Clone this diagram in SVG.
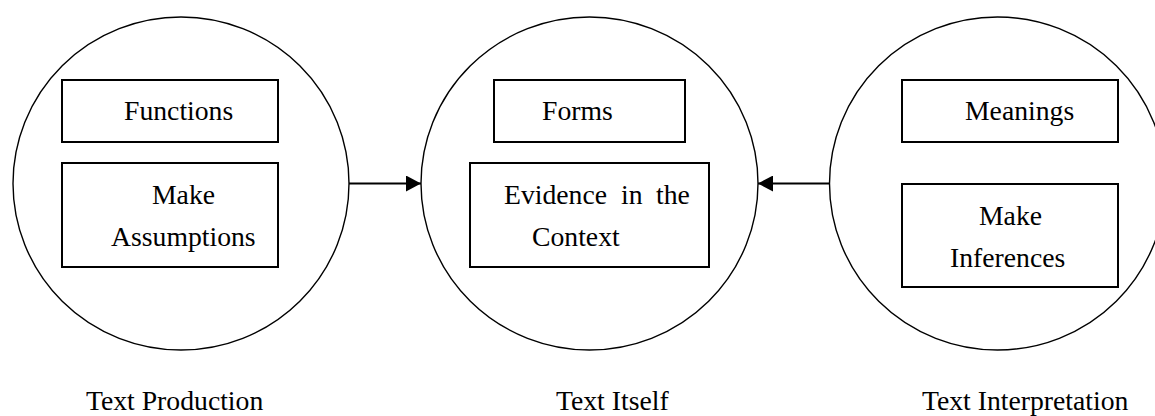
<svg xmlns="http://www.w3.org/2000/svg" width="1155" height="416" viewBox="0 0 1155 416">
<style>
.c{fill:none;stroke:#000;stroke-width:1.4}
.b{fill:#fff;stroke:#000;stroke-width:2}
.t{font-family:"Liberation Serif","Times New Roman",serif;font-size:27.7px;fill:#000}
.a{stroke:#000;stroke-width:1.8;fill:none}
</style>
<defs>
<marker id="ah" markerUnits="userSpaceOnUse" markerWidth="16" markerHeight="16" refX="15" refY="8" orient="auto">
<path d="M0,0 L15,8 L0,16 Z" fill="#000"/>
</marker>
</defs>
<rect width="1155" height="416" fill="#fff"/>
<g id="production">
<ellipse class="c" cx="181" cy="183.5" rx="168" ry="166.5"/>
<rect class="b" x="62" y="80" width="216" height="62"/>
<text class="t" x="124" y="120">Functions</text>
<rect class="b" x="62" y="163" width="216" height="104"/>
<text class="t" x="152" y="204">Make</text>
<text class="t" x="111" y="246">Assumptions</text>
<text class="t" x="86" y="410">Text Production</text>
</g>
<g id="itself">
<ellipse class="c" cx="589.5" cy="183.5" rx="168.5" ry="166.5"/>
<rect class="b" x="494" y="80" width="191" height="62"/>
<text class="t" x="542" y="120">Forms</text>
<rect class="b" x="470" y="163" width="239" height="104"/>
<text class="t" y="204"><tspan x="504">Evidence</tspan><tspan x="621">in</tspan><tspan x="656">the</tspan></text>
<text class="t" x="532" y="246">Context</text>
<text class="t" x="556" y="410">Text Itself</text>
</g>
<g id="interpretation">
<ellipse class="c" cx="997.5" cy="183.5" rx="168" ry="166.5"/>
<rect class="b" x="902" y="80" width="216" height="62"/>
<text class="t" x="965" y="120">Meanings</text>
<rect class="b" x="902" y="184" width="216" height="103"/>
<text class="t" x="979" y="225">Make</text>
<text class="t" x="950" y="267">Inferences</text>
<text class="t" x="922" y="410">Text Interpretation</text>
</g>
<g id="connectors">
<line class="a" x1="349" y1="183.5" x2="421" y2="183.5" marker-end="url(#ah)"/>
<line class="a" x1="829.5" y1="183.5" x2="758" y2="183.5" marker-end="url(#ah)"/>
</g>
</svg>
